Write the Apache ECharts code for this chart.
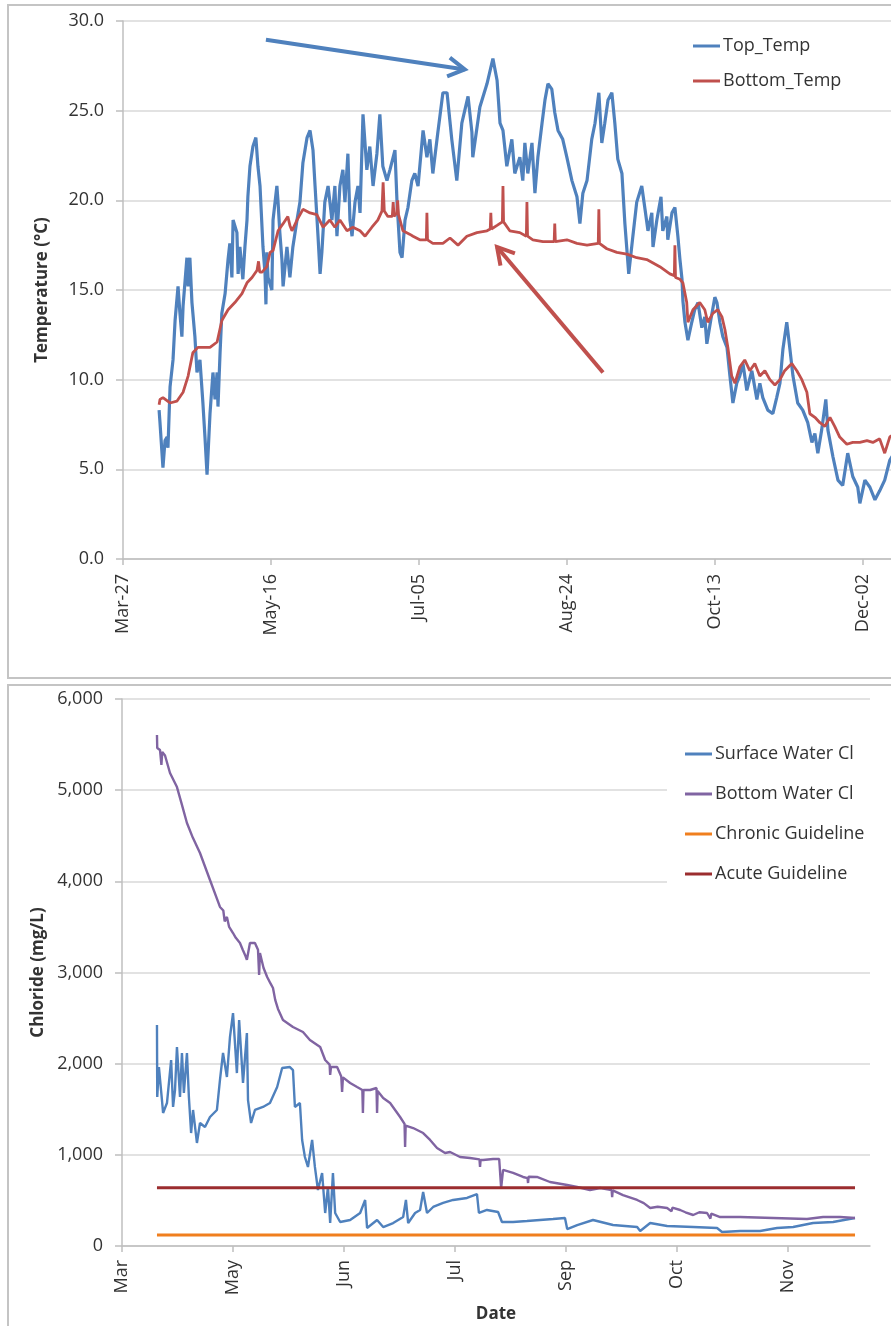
<!DOCTYPE html>
<html>
<head>
<meta charset="utf-8">
<script src="https://cdn.jsdelivr.net/npm/echarts@6/dist/echarts.min.js"></script>
<style>
html,body{margin:0;padding:0;background:#fff;overflow:hidden;}
#c{width:891px;height:1326px;}
</style>
</head>
<body>
<div id="c"></div>
<script>
// ---------- DATA (x = days after Mar-27) ----------
const tempTickLabels = ['Mar-27','May-16','Jul-05','Aug-24','Oct-13','Dec-02'];
const clTickLabels = ['Mar','May','Jun','Jul','Sep','Oct','Nov'];

const topTemp = [[12.2,8.3],[12.5,7.6],[13.5,5.1],[14.2,6.6],[14.9,6.8],[15.2,6.2],[15.9,9.6],[16.9,11.1],[17.6,13.3],[18.6,15.2],[19.2,13.8],[19.9,12.4],[20.3,14.1],[21.6,16.8],[22.0,15.2],[22.6,16.8],[23.3,14.3],[24.3,12.4],[25.0,10.4],[26.0,11.1],[27.0,8.7],[27.7,6.8],[28.4,4.7],[29.4,8.1],[30.4,10.4],[31.1,8.9],[31.8,10.4],[32.1,8.5],[32.8,11.5],[33.4,13.7],[34.5,14.8],[35.5,16.7],[36.1,17.6],[36.8,15.7],[37.2,18.9],[38.5,18.2],[38.9,15.9],[39.5,17.4],[40.5,15.6],[41.2,17.4],[41.9,18.9],[42.2,20.2],[42.9,21.9],[43.9,23.0],[44.9,23.5],[45.6,21.9],[46.3,20.8],[47.3,17.4],[48.0,15.9],[48.3,14.2],[48.6,17.1],[49.0,15.7],[50.3,15.0],[50.7,18.9],[52.0,20.8],[52.4,19.9],[53.0,18.2],[53.7,16.7],[54.1,15.2],[55.4,17.4],[56.4,15.7],[57.4,17.4],[58.8,18.9],[59.8,19.9],[60.8,22.1],[62.2,23.5],[63.2,23.9],[64.2,22.8],[64.9,20.8],[65.9,18.0],[66.6,15.9],[67.2,17.1],[68.2,19.9],[69.3,20.8],[70.6,18.9],[71.6,20.8],[72.3,18.0],[73.3,20.8],[74.3,21.7],[75.0,19.9],[76.0,22.6],[76.7,18.9],[77.4,18.0],[78.4,19.9],[79.4,20.8],[80.1,19.3],[81.1,24.8],[82.4,21.7],[83.4,23.0],[84.5,20.8],[85.8,22.6],[86.8,24.8],[87.8,21.9],[89.2,21.1],[90.2,21.7],[91.9,22.8],[92.6,19.9],[93.6,17.1],[94.3,16.8],[95.3,18.9],[96.3,19.6],[97.6,21.1],[98.6,21.5],[99.7,20.8],[101.4,23.9],[102.7,22.4],[103.7,23.4],[104.7,21.5],[106.4,23.8],[108.1,26.0],[109.5,26.0],[111.1,23.4],[112.8,21.1],[113.2,21.0],[114.5,24.3],[116.6,25.8],[117.9,23.8],[118.2,22.4],[120.6,25.2],[123.0,26.5],[125.0,27.9],[126.4,26.7],[127.4,24.3],[128.4,23.9],[129.7,21.9],[131.4,23.4],[132.4,21.5],[134.1,22.4],[135.1,21.1],[135.8,23.2],[136.8,21.5],[138.2,23.2],[139.2,20.4],[140.2,22.4],[141.6,24.3],[142.6,25.6],[143.6,26.5],[144.9,26.2],[145.9,24.9],[147.0,23.9],[148.6,23.4],[150.0,22.4],[151.7,21.1],[153.4,20.2],[154.4,18.7],[155.4,20.4],[156.8,21.1],[158.4,23.4],[159.5,24.3],[160.8,26.0],[161.8,23.2],[162.8,24.3],[163.9,25.6],[165.2,26.0],[166.2,24.3],[167.2,22.3],[168.6,21.5],[169.6,18.7],[170.9,15.9],[172.3,18.0],[173.6,19.9],[175.3,20.8],[176.4,19.5],[177.4,18.3],[178.7,19.3],[179.1,17.4],[180.4,18.9],[181.8,20.2],[182.4,18.3],[183.8,19.1],[184.1,17.8],[185.5,19.3],[186.5,19.6],[187.5,18.0],[188.2,16.7],[188.9,15.6],[189.2,14.4],[189.9,13.2],[190.9,12.2],[192.2,13.2],[193.2,13.9],[194.3,14.3],[195.6,12.9],[196.6,13.5],[197.3,12.0],[198.6,13.3],[200.0,14.6],[200.7,14.3],[201.7,13.2],[202.7,12.4],[204.1,11.8],[205.1,10.2],[206.1,8.7],[207.4,9.8],[208.4,10.2],[209.5,10.9],[210.8,9.4],[212.5,10.5],[214.2,8.9],[215.2,9.8],[216.2,9.0],[217.9,8.3],[219.6,8.1],[220.9,9.0],[222.0,9.8],[223.0,11.7],[224.3,13.2],[225.3,11.8],[226.4,10.2],[228.0,8.7],[229.7,8.3],[231.4,7.6],[232.8,6.5],[233.8,7.0],[234.8,5.9],[236.1,7.2],[237.5,8.9],[238.2,7.2],[239.9,5.7],[241.6,4.4],[243.2,4.1],[244.9,5.9],[246.6,4.6],[248.3,4.0],[249.0,3.1],[250.7,4.4],[252.4,4.0],[254.1,3.3],[255.7,3.8],[257.4,4.4],[259.1,5.5],[261.0,6.0]];

const bottomTemp = [[12.2,8.6],[12.5,8.9],[13.5,9.0],[15.9,8.7],[18.2,8.8],[20.3,9.3],[22.0,10.2],[23.6,11.5],[25.3,11.8],[27.0,11.8],[29.4,11.8],[31.8,12.1],[33.4,13.3],[35.5,13.9],[37.8,14.3],[40.2,14.8],[41.9,15.4],[43.6,15.7],[45.3,16.1],[45.8,16.6],[46.2,16.0],[47.0,16.0],[48.6,16.3],[49.7,17.1],[50.7,17.2],[52.4,18.3],[54.1,18.7],[55.7,19.1],[56.4,18.6],[57.1,18.3],[58.8,18.9],[60.8,19.5],[63.2,19.3],[65.5,19.2],[67.6,18.5],[69.9,18.9],[71.6,18.5],[73.3,18.9],[75.7,18.3],[77.7,18.5],[80.1,18.3],[81.8,18.0],[84.1,18.5],[86.1,18.9],[87.5,19.4],[87.9,21.0],[88.3,19.4],[89.5,19.1],[91.0,19.1],[91.3,19.9],[91.6,19.1],[92.5,19.3],[92.8,20.0],[93.1,19.2],[94.6,18.3],[97.0,18.1],[98.0,18.0],[100.3,17.8],[102.5,17.8],[102.7,19.3],[102.9,17.8],[104.7,17.6],[108.1,17.6],[110.5,17.9],[113.2,17.5],[116.2,18.0],[119.6,18.2],[123.0,18.3],[124.1,18.4],[124.3,19.3],[124.5,18.4],[126.4,18.6],[128.2,18.8],[128.4,20.8],[128.6,18.8],[130.7,18.3],[134.1,18.2],[136.3,18.0],[136.5,19.9],[136.7,18.0],[138.5,17.8],[141.9,17.7],[145.7,17.7],[145.9,18.7],[146.1,17.7],[150.0,17.8],[153.4,17.6],[156.8,17.5],[160.6,17.6],[160.8,19.5],[161.0,17.6],[163.5,17.3],[166.9,17.1],[170.3,17.0],[173.6,16.8],[177.0,16.7],[181.4,16.3],[184.8,15.9],[186.3,15.8],[186.5,17.5],[186.7,15.7],[188.2,15.6],[189.2,15.4],[190.5,14.3],[190.9,13.2],[192.6,13.9],[194.9,14.3],[196.6,13.9],[197.6,13.2],[199.3,13.7],[201.0,13.9],[202.4,13.5],[203.4,12.8],[204.4,11.8],[205.7,10.2],[206.8,9.8],[208.4,10.7],[210.1,11.1],[211.8,10.5],[213.5,10.9],[215.2,10.2],[216.9,10.5],[218.6,10.0],[220.3,9.7],[222.0,10.0],[223.6,10.5],[226.0,10.9],[227.7,10.5],[229.4,10.0],[231.1,9.3],[232.1,8.1],[233.8,7.9],[235.5,7.6],[237.2,7.4],[238.9,7.9],[240.5,7.4],[242.2,6.8],[244.6,6.4],[246.6,6.5],[249.0,6.5],[251.4,6.6],[253.4,6.5],[255.7,6.7],[257.4,5.9],[259.1,6.8],[261.0,7.0]];

const surfaceCl = [[12.6,2424],[12.7,1634],[13.3,1963],[14.4,1601],[14.8,1459],[16.2,1568],[17.7,2040],[18.4,1525],[19.1,1711],[19.8,2183],[20.9,1634],[21.6,2117],[22.3,1678],[23.4,2117],[24.1,1634],[24.9,1239],[25.6,1492],[27.0,1130],[28.1,1349],[29.9,1305],[31.7,1415],[34.2,1492],[35.3,1821],[36.4,2117],[37.8,1854],[38.9,2292],[40.0,2555],[41.4,1897],[42.2,2479],[43.6,1788],[45.0,2336],[45.4,1601],[46.5,1349],[47.9,1492],[50.8,1525],[53.3,1568],[55.9,1744],[57.7,1952],[60.5,1963],[61.6,1930],[62.3,1525],[64.1,1568],[64.9,1163],[65.9,976],[67.0,867],[68.5,1163],[69.5,867],[70.6,614],[72.1,801],[73.2,362],[74.2,647],[75.0,252],[76.0,801],[76.8,362],[78.6,263],[82.2,285],[85.8,362],[87.6,505],[88.3,197],[91.9,285],[94.1,208],[97.7,252],[101.3,318],[102.3,505],[103.1,252],[105.6,362],[107.4,395],[108.5,592],[109.9,362],[112.1,428],[115.7,472],[119.3,505],[124.3,527],[127.9,570],[128.6,362],[131.5,395],[135.5,373],[136.9,263],[140.9,263],[145.9,274],[150.6,285],[155.3,296],[159.6,307],[160.4,186],[164.0,230],[169.7,285],[176.9,230],[185.6,208],[186.7,165],[190.3,252],[196.4,219],[205.8,208],[214.4,197],[216.2,154],[222.7,165],[229.9,165],[236.0,197],[241.8,208],[249.0,252],[256.2,263],[264.1,307]];

const bottomCl = [[12.6,5605],[12.7,5462],[13.7,5440],[14.2,5276],[14.5,5420],[15.5,5380],[17.3,5188],[19.8,5034],[21.5,4850],[23.4,4640],[25.5,4480],[28.1,4311],[31.7,4015],[35.3,3719],[36.5,3680],[37.0,3560],[37.8,3610],[38.6,3500],[40.0,3433],[41.0,3380],[42.5,3323],[43.5,3250],[44.5,3180],[45.0,3140],[46.1,3323],[47.9,3323],[49.0,3250],[49.4,2973],[49.7,3214],[51.0,3050],[52.3,2951],[53.5,2880],[54.4,2830],[55.2,2700],[56.2,2600],[58.0,2479],[61.6,2402],[65.2,2347],[67.7,2260],[71.4,2183],[73.2,2040],[74.8,1990],[75.0,1876],[75.3,1963],[77.5,1963],[79.0,1860],[79.3,1689],[79.6,1850],[82.2,1788],[84.7,1744],[86.6,1711],[86.8,1459],[87.0,1711],[89.4,1711],[91.7,1733],[91.9,1459],[92.1,1700],[94.1,1623],[96.6,1568],[100.2,1415],[101.8,1340],[102.0,1086],[102.2,1320],[104.9,1294],[108.5,1239],[111.0,1163],[113.5,1075],[116.4,1020],[118.2,1031],[121.8,976],[125.4,965],[128.8,950],[129.0,867],[129.2,945],[130.1,943],[133.7,954],[135.9,954],[136.6,636],[137.3,834],[140.9,801],[144.5,757],[146.1,745],[146.3,691],[146.5,760],[149.5,757],[154.2,702],[160.4,669],[164.0,647],[168.6,614],[172.3,636],[176.4,614],[176.6,537],[176.8,610],[180.5,559],[185.6,505],[188.0,470],[190.3,417],[193.0,430],[196.4,417],[198.0,380],[198.3,420],[201.1,395],[203.0,370],[205.8,340],[208.0,370],[210.8,362],[212.0,300],[212.3,355],[215.5,318],[222.7,318],[234.6,307],[246.8,296],[252.6,318],[258.7,318],[264.1,307]];

const chronicGuideline = [[12.6,120],[264.1,120]];
const acuteGuideline = [[12.6,640],[264.1,640]];

// annotation arrows (data coords of top chart: [day, °C])
const arrowNotes = [
  {from:[48.3,28.95], to:[115.5,27.3], color:'#4F81BD'},
  {from:[162.2,10.4], to:[126.4,17.4], color:'#C0504D'}
];

// ---------- CHART ----------
const FONT = 'Open Sans';
const TXT = '#333333';
const GRID = '#d9d9d9';
const AX = '#bfbfbf';
const tempStep = 50, clStep = 40;
const tempTickVals = tempTickLabels.map((_, i) => i * tempStep);
const clTickVals = clTickLabels.map((_, i) => i * clStep);

function fmtThousands(v){ return String(v).replace(/\B(?=(\d{3})+(?!\d))/g, ','); }

const chart = echarts.init(document.getElementById('c'), null, {renderer:'canvas'});

const option = {
  animation:false,
  backgroundColor:'#ffffff',
  textStyle:{fontFamily:FONT},
  grid:[
    {left:123, top:21, width:799, height:538, outerBoundsMode:'none', containLabel:false},
    {left:122, top:699, width:748, height:547, outerBoundsMode:'none', containLabel:false}
  ],
  xAxis:[
    {type:'value', gridIndex:0, min:0, max:270,
      axisLine:{show:true, lineStyle:{color:AX, width:1.5}},
      axisTick:{show:true, length:6, customValues:tempTickVals, lineStyle:{color:AX, width:1.5}},
      axisLabel:{customValues:tempTickVals, rotate:90, margin:15, fontSize:18, color:TXT, fontFamily:FONT,
        formatter:v => tempTickLabels[Math.round(v/tempStep)] || ''},
      splitLine:{show:false}},
    {type:'value', gridIndex:1, min:0, max:269.5,
      name:'Date', nameLocation:'middle', nameGap:60,
      nameTextStyle:{fontSize:17, fontWeight:'bold', color:TXT, fontFamily:FONT},
      axisLine:{show:true, lineStyle:{color:AX, width:1.5}},
      axisTick:{show:true, length:6, customValues:clTickVals, lineStyle:{color:AX, width:1.5}},
      axisLabel:{customValues:clTickVals, rotate:90, margin:14, fontSize:18, color:TXT, fontFamily:FONT,
        formatter:v => clTickLabels[Math.round(v/clStep)] || ''},
      splitLine:{show:false}}
  ],
  yAxis:[
    {type:'value', gridIndex:0, min:0, max:30, interval:5,
      name:'Temperature (°C)', nameLocation:'middle', nameGap:72, nameRotate:90,
      nameTextStyle:{fontSize:17, fontWeight:'bold', color:TXT, fontFamily:FONT},
      axisLine:{show:true, lineStyle:{color:AX, width:1.5}},
      axisTick:{show:true, length:7, lineStyle:{color:AX, width:1.5}},
      axisLabel:{margin:19, fontSize:18, color:TXT, fontFamily:FONT, formatter:v => v.toFixed(1)},
      splitLine:{show:true, lineStyle:{color:GRID, width:1.5}}},
    {type:'value', gridIndex:1, min:0, max:6000, interval:1000,
      name:'Chloride (mg/L)', nameLocation:'middle', nameGap:74, nameRotate:90,
      nameTextStyle:{fontSize:17, fontWeight:'bold', color:TXT, fontFamily:FONT},
      axisLine:{show:true, lineStyle:{color:AX, width:1.5}},
      axisTick:{show:true, length:7, lineStyle:{color:AX, width:1.5}},
      axisLabel:{margin:19, fontSize:18, color:TXT, fontFamily:FONT, formatter:v => fmtThousands(v)},
      splitLine:{show:true, lineStyle:{color:GRID, width:1.5}}}
  ],
  legend:[
    {data:['Top_Temp','Bottom_Temp'], orient:'vertical', left:693, top:37, padding:0,
      itemWidth:27, itemHeight:3, itemGap:17, icon:'rect',
      textStyle:{fontSize:18, color:TXT, fontFamily:FONT, padding:[0,0,0,-2]}},
    {data:['Surface Water Cl','Bottom Water Cl','Chronic Guideline','Acute Guideline'],
      orient:'vertical', left:667, top:730, padding:[15,20,15,18], backgroundColor:'#ffffff',
      itemWidth:27, itemHeight:3, itemGap:22, icon:'rect',
      textStyle:{fontSize:18, color:TXT, fontFamily:FONT, padding:[0,0,0,-2]}}
  ],
  series:[
    {name:'Top_Temp', type:'line', xAxisIndex:0, yAxisIndex:0, data:topTemp, showSymbol:false, symbol:'none',
      color:'#4F81BD', lineStyle:{width:3.2, color:'#4F81BD'}, itemStyle:{color:'#4F81BD'}},
    {name:'Bottom_Temp', type:'line', xAxisIndex:0, yAxisIndex:0, data:bottomTemp, showSymbol:false, symbol:'none',
      color:'#C0504D', lineStyle:{width:2.8, color:'#C0504D'}, itemStyle:{color:'#C0504D'}},
    {name:'Surface Water Cl', type:'line', xAxisIndex:1, yAxisIndex:1, data:surfaceCl, showSymbol:false, symbol:'none',
      color:'#4F81BD', lineStyle:{width:2.4, color:'#4F81BD'}, itemStyle:{color:'#4F81BD'}},
    {name:'Bottom Water Cl', type:'line', xAxisIndex:1, yAxisIndex:1, data:bottomCl, showSymbol:false, symbol:'none',
      color:'#8064A2', lineStyle:{width:2.4, color:'#8064A2'}, itemStyle:{color:'#8064A2'}},
    {name:'Chronic Guideline', type:'line', xAxisIndex:1, yAxisIndex:1, data:chronicGuideline, showSymbol:false, symbol:'none',
      color:'#F07F1E', lineStyle:{width:3, color:'#F07F1E'}, itemStyle:{color:'#F07F1E'}},
    {name:'Acute Guideline', type:'line', xAxisIndex:1, yAxisIndex:1, data:acuteGuideline, showSymbol:false, symbol:'none',
      color:'#9B2D2F', lineStyle:{width:3, color:'#9B2D2F'}, itemStyle:{color:'#9B2D2F'}}
  ]
};
chart.setOption(option);

// open frames (no right edge, as in the cropped original) + arrows
const graphics = [
  {type:'polyline', z:-1, silent:true, shape:{points:[[1000,5],[8,5],[8,678],[1000,678]]},
    style:{fill:null, stroke:'#c4c4c4', lineWidth:2}},
  {type:'polyline', z:-1, silent:true, shape:{points:[[1000,685],[8,685],[8,1400]]},
    style:{fill:null, stroke:'#c4c4c4', lineWidth:2}}
];
arrowNotes.forEach(a => {
  const p1 = chart.convertToPixel({xAxisIndex:0, yAxisIndex:0}, a.from);
  const p2 = chart.convertToPixel({xAxisIndex:0, yAxisIndex:0}, a.to);
  const ang = Math.atan2(p2[1]-p1[1], p2[0]-p1[0]);
  const L = 19, h = 0.52;
  const h1 = [p2[0]-L*Math.cos(ang-h), p2[1]-L*Math.sin(ang-h)];
  const h2 = [p2[0]-L*Math.cos(ang+h), p2[1]-L*Math.sin(ang+h)];
  graphics.push({type:'line', z:10, silent:true, shape:{x1:p1[0], y1:p1[1], x2:p2[0], y2:p2[1]},
    style:{stroke:a.color, lineWidth:4}});
  graphics.push({type:'polyline', z:10, silent:true, shape:{points:[h1, p2, h2]},
    style:{stroke:a.color, lineWidth:4, fill:null, lineJoin:'miter'}});
});
chart.setOption({graphic:graphics});
</script>
</body>
</html>
